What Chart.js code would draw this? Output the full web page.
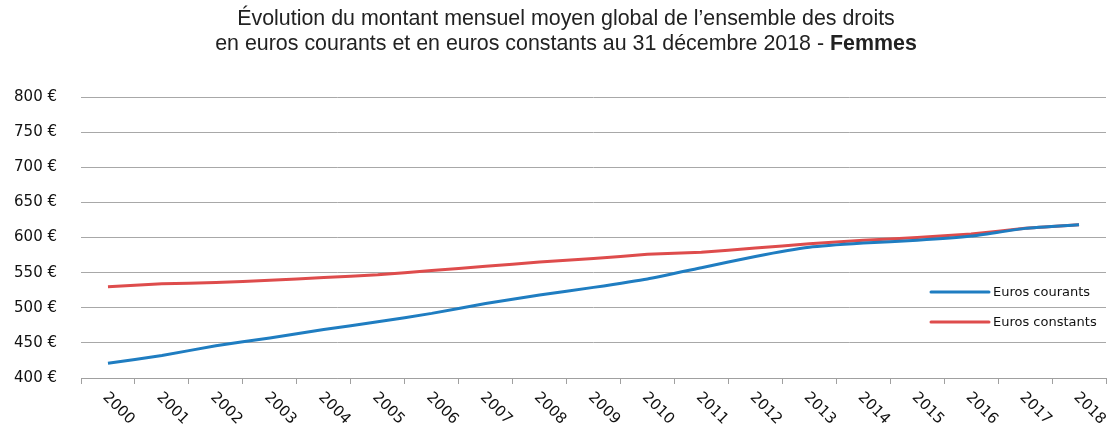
<!DOCTYPE html>
<html lang="fr">
<head>
<meta charset="utf-8">
<script src="https://cdn.jsdelivr.net/npm/chart.js@4"></script>
<style>
  html, body { margin: 0; padding: 0; background: #fff; }
  #wrap { position: relative; width: 1109px; height: 425px; }
  #titre {
    position: absolute; left: 0; top: 6px; width: 1132px;
    text-align: center; font-family: "Liberation Sans Narrow", "Liberation Sans", Arial, sans-serif;
    font-size: 21.4px; line-height: 25px; color: #222;
  }
  canvas { position: absolute; left: 0; top: 0; }
</style>
</head>
<body>
<div id="wrap">
  <canvas id="chart" width="1109" height="425"></canvas>
  <div id="titre">Évolution du montant mensuel moyen global de l’ensemble des droits<br>en euros courants et en euros constants au 31 décembre 2018 - <b>Femmes</b></div>
</div>
<script>
// Données
const annees = ['2000', '2001', '2002', '2003', '2004', '2005', '2006', '2007', '2008', '2009',
                '2010', '2011', '2012', '2013', '2014', '2015', '2016', '2017', '2018'];
const eurosCourants = [421, 432, 446, 457, 469, 480, 492, 506, 518, 529, 541, 557, 573, 586, 592, 596, 602, 613, 618];
const eurosConstants = [530, 534, 536, 539, 543, 547, 553, 559, 565, 570, 576, 579, 585, 591, 596, 600, 605, 613, 618];
const ticksY = [400, 450, 500, 550, 600, 650, 700, 750, 800];

const police = '"DejaVu Sans", Verdana, sans-serif';

// Étiquettes de l'axe X tournées à 45° et légende dans la zone du graphique
const decorPlugin = {
    id: 'decor',
    afterDraw(chart) {
        const ctx = chart.ctx;
        const xs = chart.scales.x;
        const basY = chart.chartArea.bottom;
        ctx.save();
        ctx.fillStyle = '#111';
        ctx.font = '15px ' + police;
        ctx.textAlign = 'left';
        ctx.textBaseline = 'middle';
        annees.forEach((a, i) => {
            const x = xs.getPixelForValue(i);
            ctx.save();
            ctx.translate(x - 3, basY + 17);
            ctx.rotate(Math.PI / 4);
            ctx.fillText(a, 0, 0);
            ctx.restore();
        });

        // légende
        ctx.font = '13px ' + police;
        chart.data.datasets.forEach((ds, i) => {
            const y = 292 + i * 30;
            ctx.strokeStyle = ds.borderColor;
            ctx.lineWidth = 3;
            ctx.lineCap = 'round';
            ctx.beginPath();
            ctx.moveTo(931, y);
            ctx.lineTo(989, y);
            ctx.stroke();
            ctx.fillStyle = '#111';
            ctx.fillText(ds.label, 993, y + 1);
        });
        ctx.restore();
    }
};

new Chart(document.getElementById('chart'), {
    type: 'line',
    data: {
        labels: annees,
        datasets: [{
            label: 'Euros courants',
            data: eurosCourants,
            borderColor: '#1f7dc1',
            borderWidth: 3,
            pointRadius: 0,
            tension: 0.15,
            fill: false
        }, {
            label: 'Euros constants',
            data: eurosConstants,
            borderColor: '#de4c4c',
            borderWidth: 3,
            pointRadius: 0,
            tension: 0.15,
            fill: false
        }]
    },
    options: {
        responsive: false,
        animation: false,
        layout: { padding: { left: 0, right: 3, top: 97, bottom: 0 } },
        plugins: {
            legend: { display: false },
            title: { display: false },
            tooltip: { enabled: false }
        },
        scales: {
            x: {
                offset: true,
                grid: {
                    offset: true,
                    drawOnChartArea: false,
                    drawTicks: true,
                    tickLength: 6,
                    color: '#a0a0a0'
                },
                border: { display: true, color: '#a0a0a0', width: 1 },
                ticks: { display: false },
                afterFit(scale) { scale.height = 47; }
            },
            y: {
                min: 400,
                max: 800,
                afterBuildTicks(scale) { scale.ticks = ticksY.map(v => ({ value: v })); },
                grid: { color: '#a8a8a8', drawTicks: false, lineWidth: 1 },
                border: { display: false },
                ticks: {
                    color: '#111',
                    padding: 24,
                    font: { family: police, size: 15 },
                    callback: v => v + ' €'
                },
                afterFit(scale) { scale.width = 81; }
            }
        }
    },
    plugins: [decorPlugin]
});
</script>
</body>
</html>
